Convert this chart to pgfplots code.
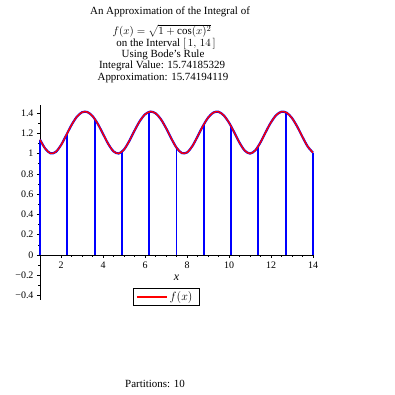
\documentclass[border=0pt]{standalone}
\usepackage{pgfplots}
\pgfplotsset{compat=1.18}
\usepackage{fontspec}
\setmainfont{Liberation Serif}
\definecolor{pblue}{RGB}{0,0,255}
\definecolor{pred}{RGB}{255,0,0}
\begin{document}
\begin{tikzpicture}[x=1bp,y=1bp]
\path[use as bounding box] (0,0) rectangle (395,395);
\begin{axis}[
  at={(40bp,95.4bp)}, anchor=south west,
  scale only axis, width=273bp, height=194.7bp,
  xmin=1, xmax=14, ymin=-0.44, ymax=1.48,
  axis x line=middle, axis y line=left,
  axis line style={-, black, line width=0.8pt},
  clip=false,
  xtick={2,4,6,8,10,12,14},
  ytick={-0.4,-0.2,0,0.2,0.4,0.6,0.8,1,1.2,1.4},
  yticklabels={−0.4,−0.2,0,0.2,0.4,0.6,0.8,1,1.2,1.4},
  minor x tick num=3, minor y tick num=1,
  tick align=outside,
  major tick length=3bp, minor tick length=1.8bp,
  tick style={black, line width=0.5pt},
  /pgf/number format/assume math mode=true,
  ticklabel style={font=\fontsize{10}{11}\selectfont},
  xticklabel style={yshift=-0.5bp},
  xlabel={\itshape x},
  xlabel style={at={(axis description cs:0.5,0.111)}, anchor=center, font=\fontsize{12}{13}\selectfont},
  legend style={at={(axis description cs:0.463,0.0596)}, anchor=north, draw=black, line width=0.6pt,
    font=\fontsize{12.5}{13}\selectfont, inner xsep=3bp, inner ysep=1.5bp},
  legend cell align=left,
  legend image code/.code={\draw[#1] (0bp,0bp) -- (30bp,0bp);},
]
\addplot[pblue, line width=2pt, forget plot] coordinates {(1,0)(1,1.1366)};
\addplot[pblue, line width=2pt, forget plot] coordinates {(2.3,0)(2.3,1.2017)};
\addplot[pblue, line width=2pt, forget plot] coordinates {(3.6,0)(3.6,1.3432)};
\addplot[pblue, line width=2pt, forget plot] coordinates {(4.9,0)(4.9,1.0173)};
\addplot[pblue, line width=2pt, forget plot] coordinates {(6.2,0)(6.2,1.4117)};
\addplot[pblue, line width=2pt, forget plot] coordinates {(7.5,0)(7.5,1.0584)};
\addplot[pblue, line width=2pt, forget plot] coordinates {(8.8,0)(8.8,1.2887)};
\addplot[pblue, line width=2pt, forget plot] coordinates {(10.1,0)(10.1,1.2691)};
\addplot[pblue, line width=2pt, forget plot] coordinates {(11.4,0)(11.4,1.0746)};
\addplot[pblue, line width=2pt, forget plot] coordinates {(12.7,0)(12.7,1.4079)};
\addplot[pblue, line width=2pt, forget plot] coordinates {(14,0)(14,1.0093)};
\addplot[pblue, line width=2.2pt, smooth, forget plot] coordinates {
(1,1.1366)(1.25,1.0485)(1.5,1.0025)(1.75,1.0158)(2,1.0831)(2.25,1.1810)(2.5,1.2813)(2.75,1.3617)
(3,1.4072)(3.25,1.4101)(3.5,1.3701)(3.75,1.2936)(4,1.1946)(4.25,1.0950)(4.5,1.0220)(4.75,1.0007)
(5,1.0395)(5.25,1.1235)(5.5,1.2256)(5.75,1.3197)(6,1.3864)(6.25,1.4138)(6.5,1.3978)(6.75,1.3407)
(7,1.2524)(7.25,1.1500)(7.5,1.0584)(7.75,1.0054)(8,1.0105)(8.25,1.0718)(8.5,1.1672)(8.75,1.2685)
(9,1.3528)(9.25,1.4038)(9.5,1.4122)(9.75,1.3765)(10,1.3054)(10.25,1.2089)(10.5,1.1076)(10.75,1.0292)
(11,1.0000)(11.25,1.0312)(11.5,1.1107)(11.75,1.2127)(12,1.3085)(12.25,1.3796)(12.5,1.4127)(12.75,1.4024)
(13,1.3503)(13.25,1.2654)(13.5,1.1636)(13.75,1.0689)(14,1.0093)};
\addplot[pred, line width=1.4pt, smooth] coordinates {
(1,1.1366)(1.25,1.0485)(1.5,1.0025)(1.75,1.0158)(2,1.0831)(2.25,1.1810)(2.5,1.2813)(2.75,1.3617)
(3,1.4072)(3.25,1.4101)(3.5,1.3701)(3.75,1.2936)(4,1.1946)(4.25,1.0950)(4.5,1.0220)(4.75,1.0007)
(5,1.0395)(5.25,1.1235)(5.5,1.2256)(5.75,1.3197)(6,1.3864)(6.25,1.4138)(6.5,1.3978)(6.75,1.3407)
(7,1.2524)(7.25,1.1500)(7.5,1.0584)(7.75,1.0054)(8,1.0105)(8.25,1.0718)(8.5,1.1672)(8.75,1.2685)
(9,1.3528)(9.25,1.4038)(9.5,1.4122)(9.75,1.3765)(10,1.3054)(10.25,1.2089)(10.5,1.1076)(10.75,1.0292)
(11,1.0000)(11.25,1.0312)(11.5,1.1107)(11.75,1.2127)(12,1.3085)(12.25,1.3796)(12.5,1.4127)(12.75,1.4024)
(13,1.3503)(13.25,1.2654)(13.5,1.1636)(13.75,1.0689)(14,1.0093)};
\addlegendentry{$f(x)$\,}
\end{axis}
\begin{scope}[every node/.style={font=\fontsize{11}{12}\selectfont, inner sep=0pt}]
\node at (170,383.5) {An Approximation of the Integral of};
\node at (162,364) {$f(x)=\sqrt{1+\cos(x)^2}$};
\node at (166,351.5) {on the Interval $[\,1,\,14\,]$};
\node at (163,340.5) {Using Bode's Rule};
\node at (162,329) {Integral Value: 15.74185329};
\node at (163,317) {Approximation: 15.74194119};
\node at (155,11) {Partitions: 10};
\end{scope}
\end{tikzpicture}
\end{document}
